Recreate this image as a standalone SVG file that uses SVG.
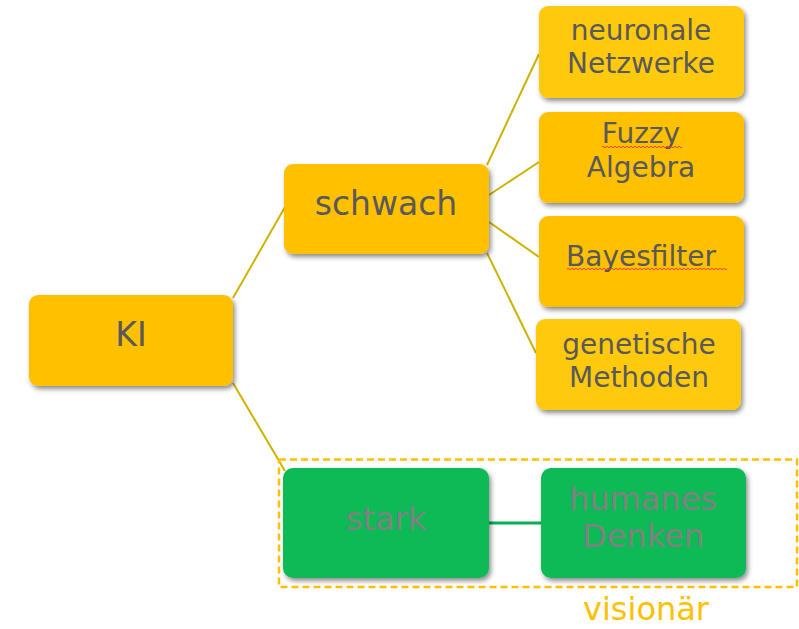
<svg xmlns="http://www.w3.org/2000/svg" width="799" height="629" viewBox="0 0 799 629">
  <style>
    .box { fill: #FFC000; filter: url(#shadow); }
    .box.light { fill: #FFC90A; }
    .box.green { fill: #07BA56; }
    .lbl { font-family: "DejaVu Sans", "Liberation Sans", sans-serif; fill: #595959; text-anchor: middle; }
    .lbl.dim { fill: #808080; }
    .link { stroke: #CDB300; stroke-width: 2; fill: none; }
    .link.green { stroke: #07B050; stroke-width: 3; }
    .spell { stroke: #E8403A; stroke-width: 1; fill: none; }
  </style>
  <defs>
    <filter id="shadow" x="-10%" y="-10%" width="125%" height="130%">
      <feDropShadow dx="2" dy="3" stdDeviation="2.5" flood-color="#000" flood-opacity="0.45"/>
    </filter>
  </defs>
  <rect width="799" height="629" fill="#FFFFFF"/>

  <!-- connectors -->
  <g id="connectors">
    <line class="link" x1="233" y1="298" x2="285" y2="207"/>
    <line class="link" x1="233" y1="383" x2="285" y2="471"/>
    <line class="link" x1="487" y1="165" x2="539" y2="54"/>
    <line class="link" x1="489" y1="195" x2="539" y2="162"/>
    <line class="link" x1="489" y1="222" x2="539" y2="257"/>
    <line class="link" x1="487" y1="253" x2="536" y2="353"/>
    <line class="link green" x1="489" y1="523" x2="541" y2="523"/>
  </g>

  <!-- "visionär" frame -->
  <g id="visionaer">
    <rect x="279" y="459.5" width="518" height="127.5" fill="none" stroke="#FFC000" stroke-width="2.5" stroke-dasharray="7 4"/>
    <text x="646" y="620" font-family="DejaVu Sans, Liberation Sans, sans-serif" font-size="32" fill="#FFC000" text-anchor="middle">visionär</text>
  </g>

  <g id="ki">
    <rect class="box" x="29" y="295" width="204" height="91" rx="9"/>
    <text class="lbl" x="131" y="346" font-size="33">KI</text>
  </g>

  <g id="schwach">
    <rect class="box" x="284" y="164" width="205" height="90" rx="9"/>
    <text class="lbl" x="386" y="215" font-size="33">schwach</text>
  </g>

  <g id="neuronale-netzwerke">
    <rect class="box light" x="539" y="6" width="205" height="92" rx="9"/>
    <text class="lbl" x="641" y="40" font-size="28">neuronale</text>
    <text class="lbl" x="641" y="73" font-size="28">Netzwerke</text>
  </g>

  <g id="fuzzy-algebra">
    <rect class="box" x="539" y="112" width="205" height="91" rx="9"/>
    <text class="lbl" x="641" y="143" font-size="28">Fuzzy</text>
    <text class="lbl" x="641" y="177" font-size="28">Algebra</text>
    <path class="spell" d="M602 147 q1 -1.5 2 0 t2 0 t2 0 t2 0 t2 0 t2 0 t2 0 t2 0 t2 0 t2 0 t2 0 t2 0 t2 0 t2 0 t2 0 t2 0 t2 0 t2 0 t2 0 t2 0 t2 0 t2 0 t2 0 t2 0 t2 0 t2 0 t2 0 t2 0 t2 0 t2 0 t2 0 t2 0 t2 0 t2 0 t2 0 t2 0 t2 0 t2 0 t2 0 t2 0"/>
  </g>

  <g id="bayesfilter">
    <rect class="box" x="539" y="216" width="205" height="91" rx="9"/>
    <text class="lbl" x="641" y="266" font-size="28">Bayesfilter</text>
    <path class="spell" d="M567 269 q1 -1.5 2 0 t2 0 t2 0 t2 0 t2 0 t2 0 t2 0 t2 0 t2 0 t2 0 t2 0 t2 0 t2 0 t2 0 t2 0 t2 0 t2 0 t2 0 t2 0 t2 0 t2 0 t2 0 t2 0 t2 0 t2 0 t2 0 t2 0 t2 0 t2 0 t2 0 t2 0 t2 0 t2 0 t2 0 t2 0 t2 0 t2 0 t2 0 t2 0 t2 0 t2 0 t2 0 t2 0 t2 0 t2 0 t2 0 t2 0 t2 0 t2 0 t2 0 t2 0 t2 0 t2 0 t2 0 t2 0 t2 0 t2 0 t2 0 t2 0 t2 0 t2 0 t2 0 t2 0 t2 0 t2 0 t2 0 t2 0 t2 0 t2 0 t2 0 t2 0 t2 0 t2 0 t2 0 t2 0 t2 0 t2 0 t2 0 t2 0 t2 0"/>
  </g>

  <g id="genetische-methoden">
    <rect class="box light" x="536" y="319" width="205" height="91" rx="9"/>
    <text class="lbl" x="639" y="354" font-size="28">genetische</text>
    <text class="lbl" x="639" y="387" font-size="28">Methoden</text>
  </g>

  <g id="stark">
    <rect class="box green" x="283" y="468" width="206" height="110" rx="10"/>
    <text class="lbl dim" x="386" y="530" font-size="32">stark</text>
  </g>

  <g id="humanes-denken">
    <rect class="box green" x="541" y="468" width="205" height="110" rx="10"/>
    <text class="lbl dim" x="643" y="510" font-size="32">humanes</text>
    <text class="lbl dim" x="643" y="547" font-size="32">Denken</text>
  </g>
</svg>
